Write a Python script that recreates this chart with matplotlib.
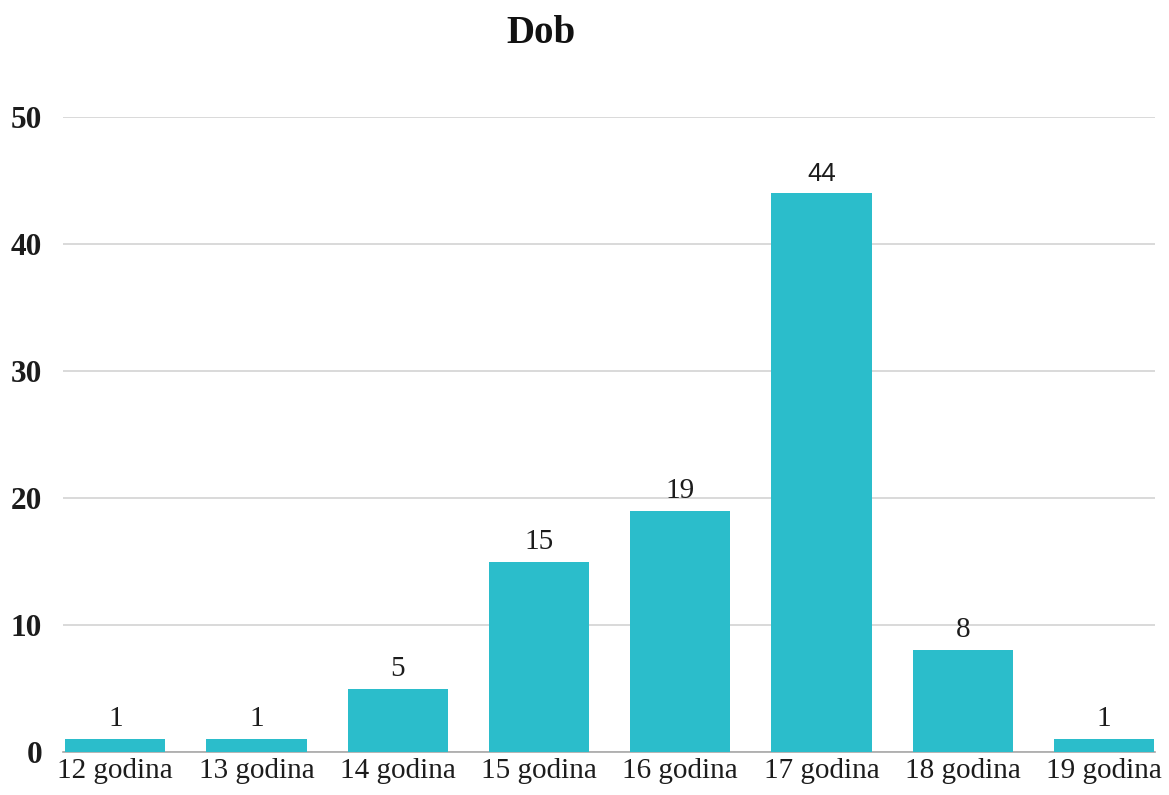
import matplotlib.pyplot as plt

categories = ["12 godina", "13 godina", "14 godina", "15 godina",
              "16 godina", "17 godina", "18 godina", "19 godina"]
counts = [1, 1, 5, 15, 19, 44, 8, 1]
yticks = [0, 10, 20, 30, 40, 50]

bar_color = "#2BBDCB"
text_color = "#1C1C1C"
serif = ["Liberation Serif", "DejaVu Serif"]

fig = plt.figure(figsize=(11.69, 7.95), dpi=100)
ax = fig.add_axes([0.0539, 0.054, 0.934, 0.799])

x = list(range(len(categories)))
bars = ax.bar(x, counts, width=0.71, color=bar_color, zorder=3)

# value labels on top of bars (the 44 is in a sans font in the original)
for xi, v in zip(x, counts):
    fam = ["Liberation Sans", "DejaVu Sans"] if v == 44 else serif
    size = 18.5 if v == 44 else 21
    ax.annotate(str(v), (xi, v), xytext=(0, 5), textcoords="offset points",
                ha="center", va="bottom", fontsize=size, family=fam,
                color=text_color, zorder=4)

ax.set_xlim(-0.37, 7.36)
ax.set_ylim(0, 50)
ax.set_yticks(yticks)
ax.set_yticklabels([str(t) for t in yticks], family=serif, fontsize=22.5,
                   fontweight="bold", color=text_color)
ax.set_xticks(x)
ax.set_xticklabels(categories, family=serif, fontsize=21, color=text_color)
ax.tick_params(axis="both", length=0)
ax.tick_params(axis="y", pad=15)
ax.tick_params(axis="x", pad=4)

ax.grid(axis="y", color="#D3D3D3", linewidth=1.2, zorder=0)
for side in ["top", "right", "left"]:
    ax.spines[side].set_visible(False)
ax.spines["bottom"].set_color("#A8A8A8")
ax.spines["bottom"].set_linewidth(1.2)

fig.text(0.463, 0.958, "Dob", ha="center", va="center", family=serif,
         fontsize=28, fontweight="bold", color="#111111")

fig.savefig("out.png", dpi=100)
